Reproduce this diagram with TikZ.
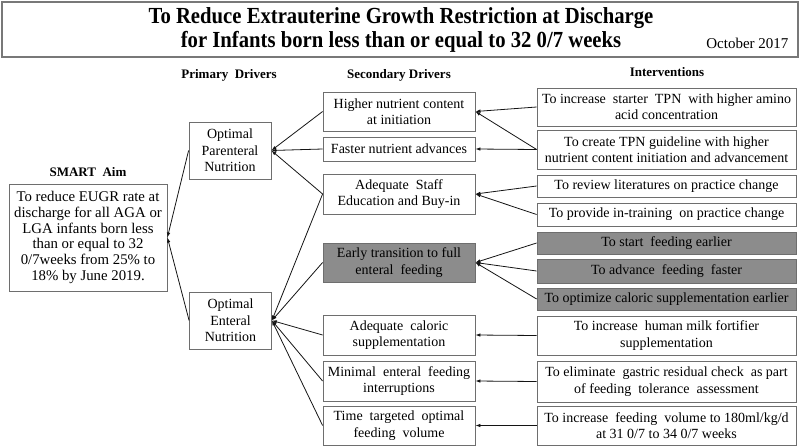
\documentclass[tikz,border=0pt]{standalone}
\usepackage{fontspec}
\setmainfont{Liberation Serif}
\usetikzlibrary{arrows.meta}
\definecolor{boxline}{RGB}{110,110,110}
\definecolor{fillg}{RGB}{140,140,140}
\definecolor{conn}{RGB}{20,20,20}
\definecolor{titleline}{RGB}{120,120,120}
\begin{document}
\begin{tikzpicture}[x=1pt,y=-1pt,
  box/.style={draw=boxline, line width=0.8pt, fill=white, align=center, inner sep=1pt,
    font=\fontsize{14}{16.3}\selectfont},
  secbox/.style={box, minimum width=152pt},
  intbox/.style={box, minimum width=259pt},
  graybox/.style={fill=fillg},
  head/.style={font=\fontsize{13}{15}\bfseries\selectfont},
  link/.style={conn, line width=0.8pt, -{Latex[length=5pt,width=3.5pt]}}
]
\useasboundingbox (0,0) rectangle (800,447);
% title
\node[draw=titleline, line width=1.6pt, minimum width=796pt, minimum height=55pt, anchor=north west, inner sep=0pt] (title) at (1,1) {};
\node[font=\fontsize{23}{26}\bfseries\selectfont] (t1) at (401,18) {\scalebox{0.9}[1]{To Reduce Extrauterine Growth Restriction at Discharge}};
\node[font=\fontsize{23}{26}\bfseries\selectfont] (t2) at (401,42) {\scalebox{0.9}[1]{for Infants born less than or equal to 32 0/7 weeks}};
\node[font=\fontsize{15}{18}\selectfont, anchor=east] (date) at (792,43) {October 2017};
% headings
\node[head] (hp) at (229,75) {Primary\ \ Drivers};
\node[head] (hs) at (399,75) {Secondary Drivers};
\node[head] (hi) at (667,72) {Interventions};
\node[head] (ha) at (88,172) {SMART\ \ Aim};
% SMART aim
\node[box, font=\fontsize{14.8}{15.8}\selectfont, minimum width=158pt, minimum height=107pt] (aim) at (88,237.5) {To reduce EUGR rate at\\discharge for all AGA or\\LGA infants born less\\than or equal to 32\\0/7weeks from 25\% to\\18\% by June 2019.};
% primary
\node[box, minimum width=82pt, minimum height=57pt] (p1) at (230,150.5) {Optimal\\Parenteral\\Nutrition};
\node[box, minimum width=82pt, minimum height=57pt] (p2) at (230.5,320.5) {Optimal\\Enteral\\Nutrition};
% secondary
\node[secbox, minimum height=39pt] (s1) at (399,111.5) {Higher nutrient content\\at initiation};
\node[secbox, minimum height=24pt] (s2) at (399,149) {Faster nutrient advances};
\node[secbox, minimum height=40pt] (s3) at (399,194) {Adequate\ \ Staff\\Education and Buy-in};
\node[secbox, graybox, minimum height=39pt] (s4) at (399,262.5) {Early transition to full\\enteral\ \ feeding};
\node[secbox, minimum height=40pt] (s5) at (399,335) {Adequate\ \ caloric\\supplementation};
\node[secbox, minimum height=40pt] (s6) at (399,381) {Minimal\ \ enteral\ \ feeding\\interruptions};
\node[secbox, minimum height=39pt] (s7) at (399,425.5) {Time\ \ targeted\ \ optimal\\feeding\ \ volume};
% interventions
\node[intbox, minimum height=38pt] (i1) at (666.5,107) {To increase\ \ starter\ \ TPN\ \ with higher amino\\acid concentration};
\node[intbox, minimum height=39pt] (i2) at (666.5,149.5) {To create TPN guideline with higher\\nutrient content initiation and advancement};
\node[intbox, minimum height=22pt] (i3) at (666.5,186) {To review literatures on practice change};
\node[intbox, minimum height=23pt] (i4) at (666.5,214.5) {To provide in-training\ \ on practice change};
\node[intbox, graybox, minimum height=22pt] (i5) at (666.5,243) {To start\ \ feeding earlier};
\node[intbox, graybox, minimum height=24pt] (i6) at (666.5,271) {To advance\ \ feeding\ \ faster};
\node[intbox, graybox, minimum height=22pt] (i7) at (666.5,299) {To optimize caloric supplementation earlier};
\node[intbox, minimum height=39pt] (i8) at (666.5,335.5) {To increase\ \ human milk fortifier\\supplementation};
\node[intbox, minimum height=41pt] (i9) at (666.5,381.5) {To eliminate\ \ gastric residual check\ \ as part\\of feeding\ \ tolerance\ \ assessment};
\node[intbox, minimum height=39pt] (i10) at (666.5,425.5) {To increase\ \ feeding\ \ volume to 180ml/kg/d\\at 31 0/7 to 34 0/7 weeks};
% connectors: interventions -> secondary
\draw[link] (i1.west) -- (s1.east);
\draw[link] (i2.west) -- (s1.east);
\draw[link] (i2.west) -- (s2.east);
\draw[link] (i3.west) -- (s3.east);
\draw[link] (i4.west) -- (s3.east);
\draw[link] (i5.west) -- (s4.east);
\draw[link] (i6.west) -- (s4.east);
\draw[link] (i7.west) -- (s4.east);
\draw[link] (i8.west) -- (s5.east);
\draw[link] (i9.west) -- (s6.east);
\draw[link] (i10.west) -- (s7.east);
% secondary -> primary
\draw[link] (s1.west) -- (p1.east);
\draw[link] (s2.west) -- (p1.east);
\draw[link] (s3.west) -- (p1.east);
\draw[link] (s3.west) -- (p2.east);
\draw[link] (s4.west) -- (p2.east);
\draw[link] (s5.west) -- (p2.east);
\draw[link] (s6.west) -- (p2.east);
\draw[link] (s7.west) -- (p2.east);
% primary -> aim
\draw[link] (p1.west) -- (aim.east);
\draw[link] (p2.west) -- (aim.east);
\end{tikzpicture}
\end{document}
